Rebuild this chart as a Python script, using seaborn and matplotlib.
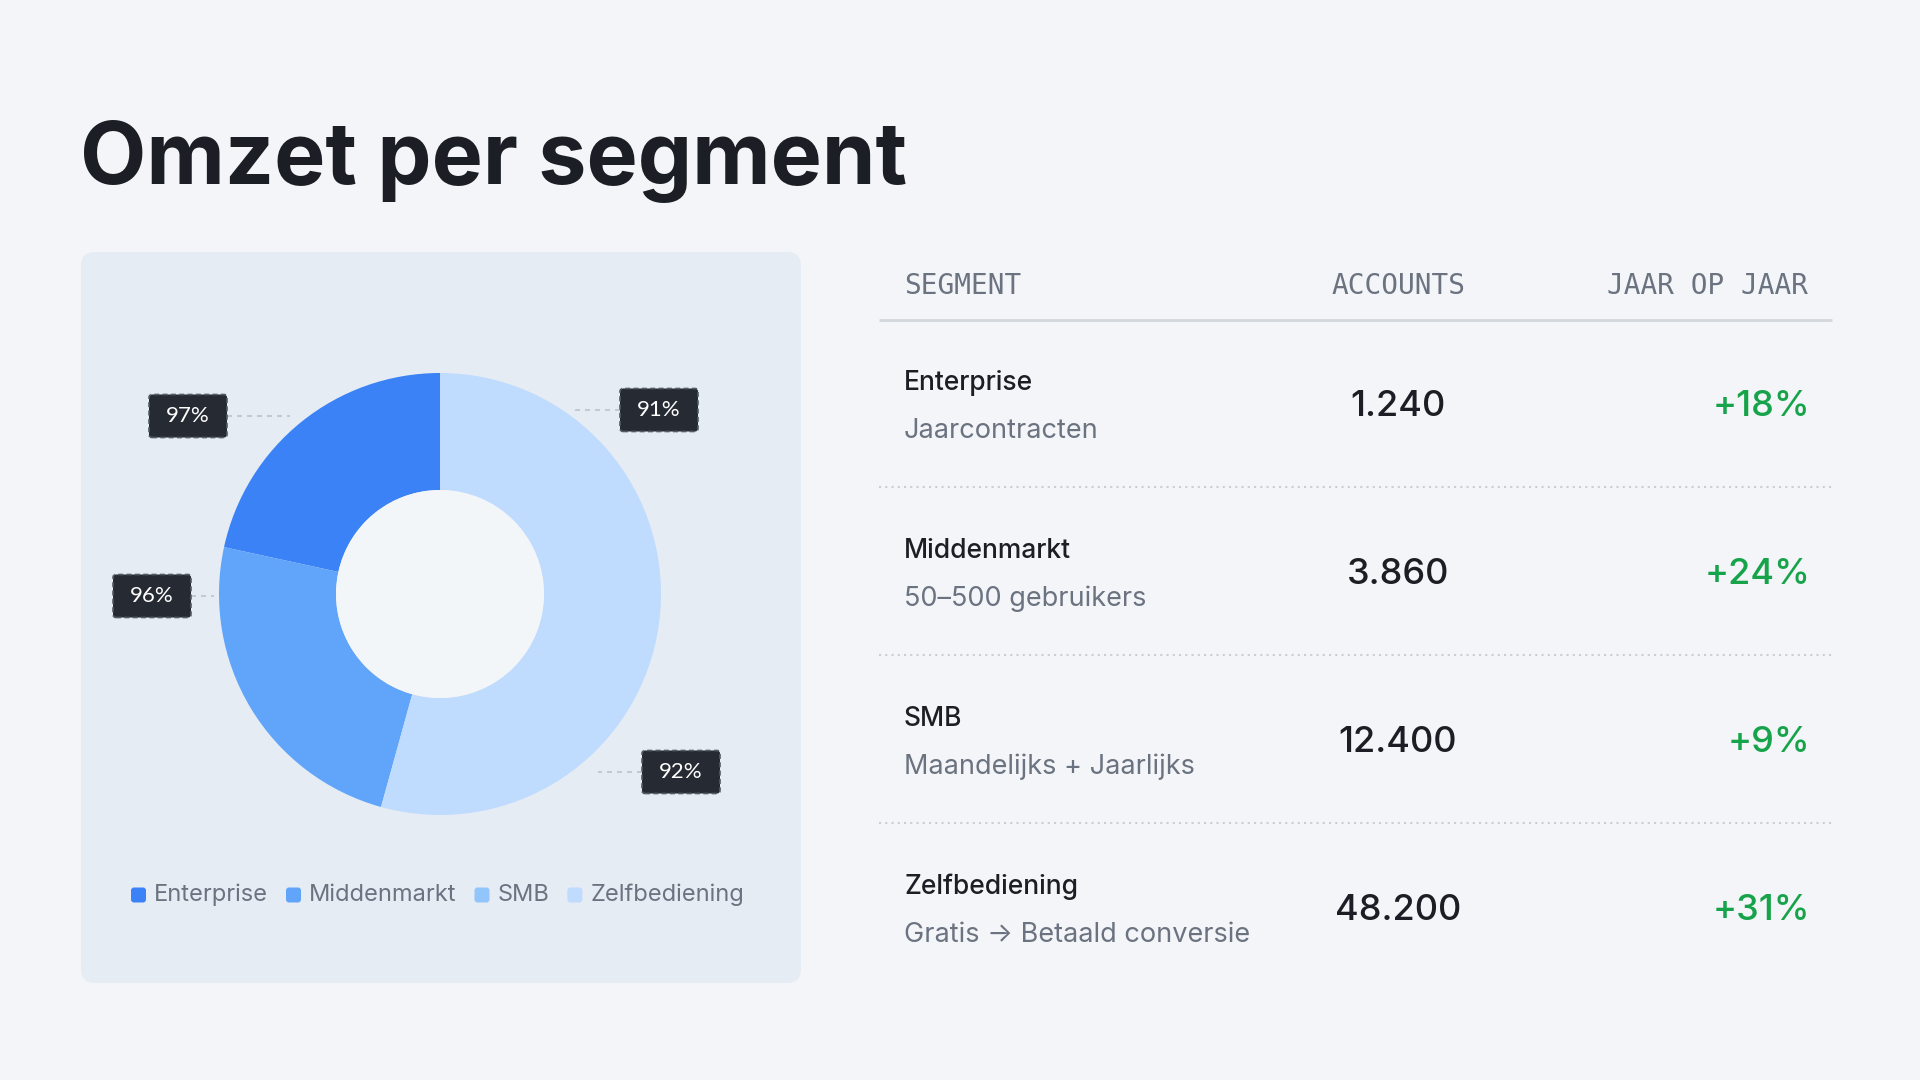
import matplotlib
matplotlib.use("Agg")
import matplotlib.pyplot as plt
from matplotlib.patches import FancyBboxPatch, Circle
import seaborn as sns

# ---------------- data ----------------
segments = ["Enterprise", "Middenmarkt", "SMB", "Zelfbediening"]
subtitles = ["Jaarcontracten", "50–500 gebruikers", "Maandelijks + Jaarlijks",
             "Gratis → Betaald conversie"]
share = [21.6, 24.1, 0.0, 54.3]          # donut share (%)
retention = [97, 96, 92, 91]             # labels shown beside the ring
accounts = ["1.240", "3.860", "12.400", "48.200"]
yoy = ["+18%", "+24%", "+9%", "+31%"]
headers = ["SEGMENT", "ACCOUNTS", "JAAR OP JAAR"]
title = "Omzet per segment"

# ---------------- style ----------------
sns.set_theme(style="white")
plt.rcParams["font.family"] = ["Inter", "DejaVu Sans"]
palette = sns.color_palette(["#3b82f6", "#60a5fa", "#93c5fd", "#bfdbfe"])
ring_colors = [palette[0], palette[1], palette[3], palette[3]]

BG = "#f3f5f8"
CARD = "#e6ecf4"
DARK = "#1b1e24"
GRAY = "#6b7280"
GREEN = "#16a34a"

W, H = 1920, 1080
fig = plt.figure(figsize=(19.2, 10.8), dpi=100, facecolor=BG)
ax = fig.add_axes([0, 0, 1, 1])
ax.set_facecolor(BG)


def Y(y):  # top-based pixel -> data
    return H - y


# title
ax.text(80, Y(184), title, fontsize=62, fontweight="bold", color=DARK,
        va="baseline", ha="left")

# card
ax.add_patch(FancyBboxPatch((81, Y(983)), 720, 731,
                            boxstyle="round,pad=0,rounding_size=14",
                            facecolor=CARD, edgecolor="none", zorder=1))

# donut
cx, cy, R, r_in = 440, 594, 221, 104
ax.pie(share, colors=ring_colors, startangle=90, counterclock=True,
       radius=R, center=(cx, Y(cy)),
       wedgeprops=dict(width=R - r_in, linewidth=0), normalize=True)
ax.add_patch(Circle((cx, Y(cy)), r_in, facecolor="#f3f6f9", edgecolor="none", zorder=3))

# label boxes (layout positions: box centre, leader line end x)
label_layout = [(188, 416, 290), (152, 596, 214), (681, 772, 598), (659, 410, 573)]
for val, (bx, by, lx) in zip(retention, label_layout):
    bw, bh = 78, 43
    edge_x = bx + bw / 2 if lx > bx else bx - bw / 2
    ax.plot([edge_x, lx], [Y(by), Y(by)], color="#bcc3cd", lw=1.2,
            ls=(0, (3, 3)), zorder=4)
    ax.add_patch(FancyBboxPatch((bx - bw / 2, Y(by) - bh / 2), bw, bh,
                                boxstyle="round,pad=0,rounding_size=3",
                                facecolor="#262a33", edgecolor="#555b66",
                                lw=1.2, ls=(0, (3, 2)), zorder=5))
    ax.text(bx, Y(by), f"{val}%", color="white", fontsize=16,
            family=["Lato", "DejaVu Sans"], ha="center", va="center", zorder=6)

# legend (manual, measured)
fig.canvas.draw()
renderer = fig.canvas.get_renderer()
lx = 131
ly = Y(895)
for name, col in zip(segments, palette):
    ax.add_patch(FancyBboxPatch((lx, ly - 7.5), 15, 15,
                                boxstyle="round,pad=0,rounding_size=3",
                                facecolor=col, edgecolor="none", zorder=5))
    t = ax.text(lx + 23, ly, name, fontsize=17, color=GRAY, ha="left",
                va="center", zorder=5)
    bb = t.get_window_extent(renderer=renderer)
    lx = lx + 23 + bb.width + 18

# table header
mono = ["DejaVu Sans Mono"]
ax.text(904, Y(286), headers[0], family=mono, fontsize=20, color=GRAY,
        ha="left", va="center")
ax.text(1398, Y(286), headers[1], family=mono, fontsize=20, color=GRAY,
        ha="center", va="center")
ax.text(1808, Y(286), headers[2], family=mono, fontsize=20, color=GRAY,
        ha="right", va="center")
ax.plot([879, 1832], [Y(320), Y(320)], color="#d3d7de", lw=2, solid_capstyle="butt")

row_h = 168
for i, (seg, sub, acc, g) in enumerate(zip(segments, subtitles, accounts, yoy)):
    base = 406 + i * row_h
    ax.text(904, Y(base - 23), seg, fontsize=19, fontweight="medium", color=DARK,
            ha="left", va="center")
    ax.text(904, Y(base + 25), sub, fontsize=19.5, color=GRAY,
            ha="left", va="center", family=["Inter", "DejaVu Sans"])
    ax.text(1398, Y(base), acc, fontsize=26, fontweight="medium", color=DARK,
            ha="center", va="center")
    ax.text(1810, Y(base), g, fontsize=26, fontweight="medium", color=GREEN,
            ha="right", va="center")
    if i < 3:
        sy = 487 + i * row_h
        ax.plot([879, 1832], [Y(sy), Y(sy)], color="#c9ced6", lw=1.5,
                ls=(0, (1, 2)))

ax.set_xlim(0, W)
ax.set_ylim(0, H)
ax.set_aspect("auto")
ax.axis("off")

fig.savefig("out.png", dpi=100, facecolor=BG)
